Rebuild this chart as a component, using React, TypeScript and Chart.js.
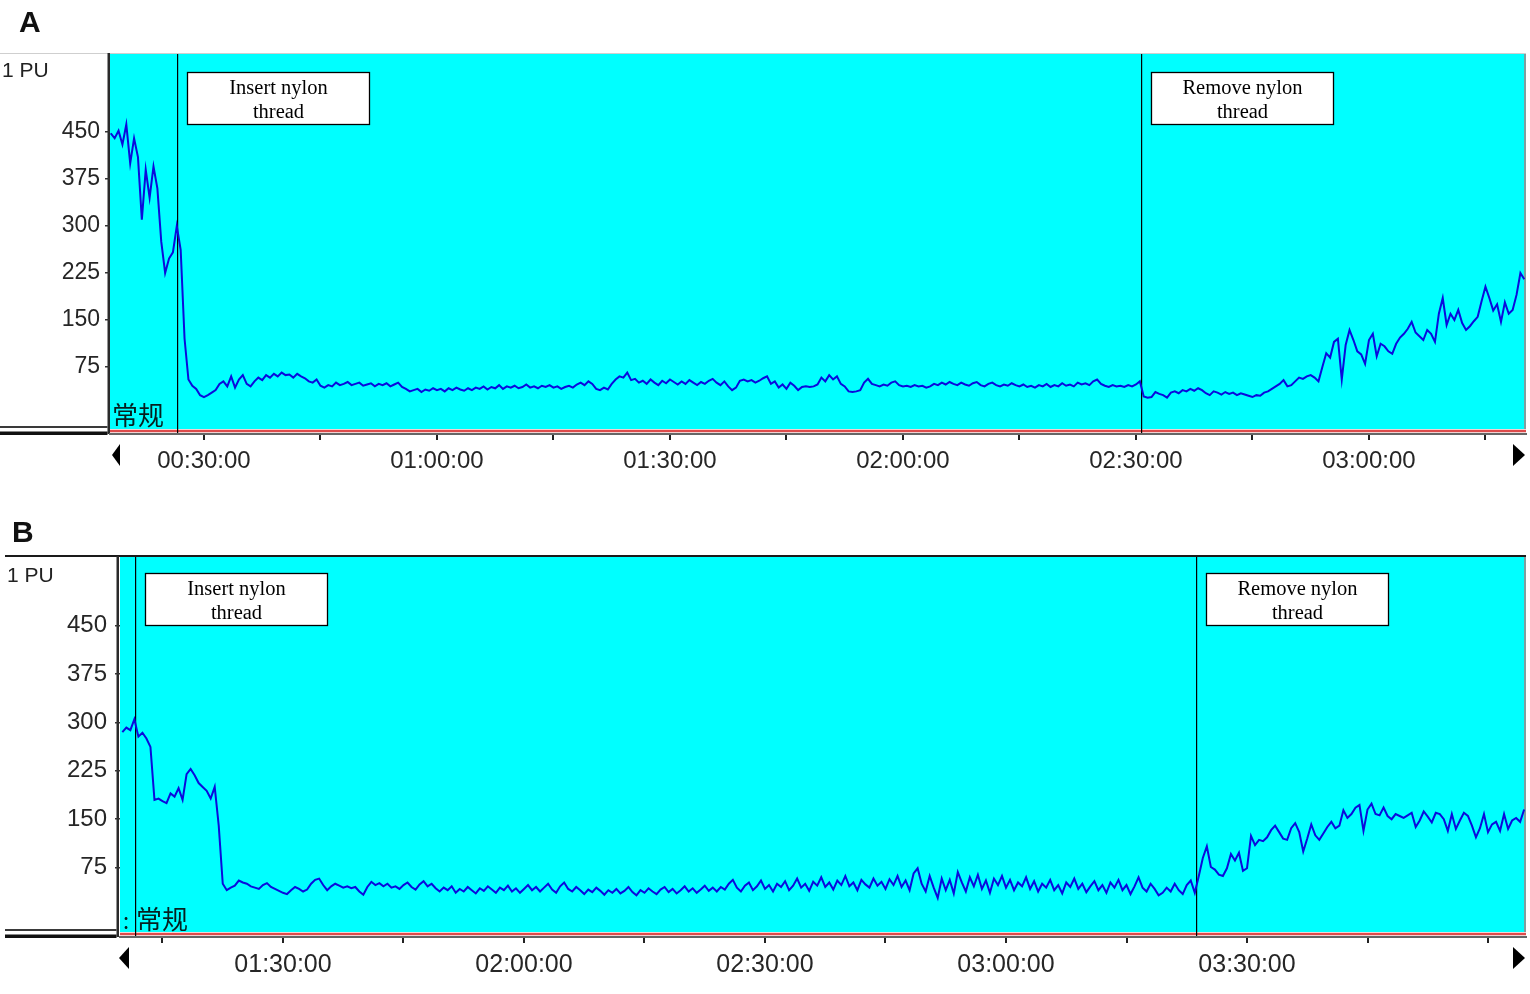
import React, { useEffect, useRef } from 'react';
import { Chart, registerables } from 'chart.js';
Chart.register(...registerables);

// ---------- Panel A data ----------
const startA = 18.0; // minutes
const stepA = 0.5;
const valuesA = [
  448, 440, 452, 430, 462, 400, 440, 410, 310, 390,
  345, 395, 360, 275, 225, 248, 258, 300, 262, 120,
  55, 45, 40, 30, 27, 30, 34, 38, 48, 52,
  44, 60, 42, 55, 62, 48, 44, 52, 58, 54,
  62, 58, 64, 60, 66, 62, 63, 58, 64, 60,
  57, 52, 50, 55, 45, 42, 46, 44, 50, 46,
  48, 51, 46, 48, 50, 45, 47, 49, 44, 48,
  46, 49, 44, 47, 50, 43, 40, 36, 38, 40,
  35, 39, 37, 41, 38, 40, 36, 41, 38, 42,
  39, 37, 41, 38, 42, 40, 44, 39, 43, 41,
  46, 40, 44, 42, 45, 41, 43, 47, 42, 44,
  41, 45, 43, 46, 42, 44, 40, 43, 45, 42,
  47, 50, 46, 52, 48, 40, 38, 42, 39, 48,
  55, 60, 58, 66, 54, 56, 50, 53, 48, 55,
  50, 46, 53, 49, 55, 51, 47, 52, 48, 54,
  50, 46, 51, 48, 53, 56, 50, 46, 52, 44,
  38, 42, 53, 55, 52, 54, 50, 53, 57, 60,
  48, 52, 42, 47, 40, 50, 45, 38, 43, 44,
  43, 44, 47, 58, 52, 62, 55, 60, 48, 44,
  36, 35, 36, 38, 50, 56, 48, 46, 44, 47,
  45, 50, 52, 46, 44, 45, 43, 46, 44, 45,
  42, 44, 48, 46, 50, 47, 51, 48, 46, 50,
  47, 45, 49, 51, 46, 44, 48, 50, 46, 44,
  47, 45, 49, 46, 44, 47, 43, 45, 42, 46,
  44, 48, 43, 46, 44, 49, 45, 47, 44, 50,
  47, 49, 46, 52, 55, 48, 45, 43, 46, 44,
  45, 43, 46, 44, 47, 52, 28, 26, 27, 35,
  32, 30, 26, 34, 36, 33, 38, 36, 40, 37,
  41, 38, 33, 30, 36, 34, 31, 35, 32, 34,
  30, 33, 31, 29, 27, 30, 29, 34, 36, 40,
  44, 48, 54, 44, 46, 52, 58, 56, 60, 62,
  58, 52, 75, 97, 90, 115, 120, 55, 110, 134,
  118, 100, 95, 80, 118, 128, 92, 112, 108, 100,
  96, 112, 122, 128, 136, 147, 130, 124, 118, 134,
  128, 115, 160, 185, 142, 160, 150, 166, 145, 134,
  140, 148, 155, 180, 203, 185, 165, 175, 147, 178,
  160, 166, 190, 225, 215,
];
const xTicksA = [30, 45, 60, 75, 90, 105, 120, 135, 150, 165, 180, 195];
const xLabelTimesA = [30, 60, 90, 120, 150, 180];
const xLabelsA = ['00:30:00', '01:00:00', '01:30:00', '02:00:00', '02:30:00', '03:00:00'];
const eventTimesA = [26.55, 150.65];

// ---------- Panel B data ----------
const startB = 70.0;
const stepB = 0.5;
const valuesB = [
  285, 292, 288, 305, 278, 284, 275, 262, 180, 182,
  178, 175, 190, 185, 198, 180, 220, 228, 218, 206,
  200, 194, 182, 200, 140, 50, 40, 44, 47, 55,
  52, 50, 46, 44, 42, 48, 51, 45, 42, 39,
  36, 34, 40, 45, 42, 38, 41, 50, 56, 58,
  48, 40, 46, 50, 47, 44, 46, 43, 45, 38,
  33, 45, 53, 48, 51, 46, 50, 44, 46, 42,
  48, 52, 45, 41, 49, 54, 46, 50, 43, 38,
  44, 40, 46, 36, 42, 38, 45, 40, 35, 43,
  39, 46, 41, 36, 44, 40, 47, 38, 43, 36,
  42, 48, 40, 45, 38, 44, 50, 41, 36, 46,
  52, 42, 38, 45, 40, 34, 41, 37, 44, 39,
  33, 40, 36, 42, 35, 39, 45, 37, 32, 40,
  36, 43, 38, 34, 41, 45, 37, 42, 35, 40,
  46, 38, 43, 36, 41, 47, 39, 44, 38, 45,
  41, 50, 56, 44, 38, 47, 52, 40, 46, 55,
  42, 48, 38, 50, 45, 54, 40, 47, 58, 44,
  50, 39, 53, 47, 60, 45, 52, 41, 55, 48,
  62, 46, 52, 40, 56, 49, 44, 58, 47, 53,
  42, 57, 48, 62, 45, 55, 40, 66, 74, 50,
  38, 62, 44, 28, 58, 40, 56, 35, 68, 52,
  38, 60, 46, 64, 42, 55, 36, 58, 48, 62,
  44, 56, 40, 52, 46, 60, 42, 54, 38, 50,
  44, 56, 40, 48, 35, 52, 45, 58, 42, 50,
  37, 46, 54, 40, 48, 36, 52, 44, 56, 40,
  48, 34, 46, 60, 44, 38, 50, 42, 32, 36,
  44, 38, 50, 40, 34, 48, 55, 36, 62, 90,
  108, 76, 72, 64, 62, 74, 96, 86, 98, 70,
  74, 124, 110, 118, 116, 122, 133, 140, 130, 120,
  118, 136, 144, 130, 100, 120, 142, 125, 118, 128,
  138, 146, 136, 140, 164, 152, 158, 168, 172, 132,
  165, 174, 158, 156, 168, 155, 150, 158, 155, 152,
  156, 160, 138, 148, 162, 154, 145, 160, 158, 150,
  132, 158, 135, 148, 160, 155, 140, 122, 136, 158,
  130, 142, 146, 132, 158, 135, 148, 152, 146, 165,
];
const xTicksB = [75, 90, 105, 120, 135, 150, 165, 180, 195, 210, 225, 240];
const xLabelTimesB = [90, 120, 150, 180, 210];
const xLabelsB = ['01:30:00', '02:00:00', '02:30:00', '03:00:00', '03:30:00'];
const eventTimesB = [71.55, 203.65];

// shared
const yTickValues = [75, 150, 225, 300, 375, 450];
const eventTexts = [['Insert nylon', 'thread'], ['Remove nylon', 'thread']];

const SANS = "'Liberation Sans', Arial, sans-serif";
const SERIF = "'Liberation Serif', 'Times New Roman', serif";
const CJK = "'Noto Sans CJK SC', sans-serif";

type PanelCfg = {
  key: string;
  letter: string;
  canvasTop: number;
  height: number;
  plotTop: number;
  plotBottom: number;
  plotLeft: number;
  plotRight: number;
  xMin: number;
  xMax: number;
  yMin: number;
  yMax: number;
  start: number;
  step: number;
  values: number[];
  xTicks: number[];
  labelTimes: number[];
  labels: string[];
  events: number[];
  topLineColor: string;
  topLineStart: number;
  boxLineX: number;
  boxLeft: number;
  yFont: number;
  xFont: number;
  yPad: number;
  xPad: number;
  letterX: number;
  letterY: number;
  puY: number;
  puX: number;
  boxTopOff: number;
  prefixColon: boolean;
  leftTri: number[];
  rightTri: number[];
  triY: number;
};

const panels: PanelCfg[] = [
  {
    key: 'A', letter: 'A', canvasTop: 0, height: 497,
    plotTop: 54, plotBottom: 434, plotLeft: 110, plotRight: 1526,
    xMin: 17.9, xMax: 200.22, yMin: -32, yMax: 574.5,
    start: startA, step: stepA, values: valuesA,
    xTicks: xTicksA, labelTimes: xLabelTimesA, labels: xLabelsA, events: eventTimesA,
    topLineColor: '#cfcfcf', topLineStart: 0, boxLineX: 107.5, boxLeft: 0,
    yFont: 23, xFont: 24, yPad: 5, xPad: 7, letterX: 19, letterY: 32, puX: 2, puY: 77, boxTopOff: 18,
    prefixColon: false, leftTri: [112, 120], rightTri: [1513, 1525], triY: 455,
  },
  {
    key: 'B', letter: 'B', canvasTop: 500, height: 494,
    plotTop: 57, plotBottom: 437, plotLeft: 120, plotRight: 1526,
    xMin: 69.71, xMax: 244.73, yMin: -32.5, yMax: 556.3,
    start: startB, step: stepB, values: valuesB,
    xTicks: xTicksB, labelTimes: xLabelTimesB, labels: xLabelsB, events: eventTimesB,
    topLineColor: '#1a1a1a', topLineStart: 5, boxLineX: 116.5, boxLeft: 5,
    yFont: 24, xFont: 25, yPad: 8, xPad: 7, letterX: 12, letterY: 42, puX: 7, puY: 82, boxTopOff: 16,
    prefixColon: true, leftTri: [119, 129], rightTri: [1513, 1525], triY: 458,
  },
];

function makeDecor(p: PanelCfg) {
  return {
    id: 'decor' + p.key,
    beforeDraw(chart: any) {
      const { ctx, chartArea: ca } = chart;
      ctx.save();
      const w = ca.right - ca.left;
      // plot background
      ctx.fillStyle = '#00ffff';
      ctx.fillRect(ca.left, ca.top, w, ca.bottom - 5 - ca.top);
      ctx.fillStyle = '#f3d2d2';
      ctx.fillRect(ca.left, ca.bottom - 5, w, 4);
      ctx.fillStyle = '#dd4b4b';
      ctx.fillRect(ca.left, ca.bottom - 4, w, 2);
      // top line
      ctx.fillStyle = p.topLineColor;
      if (p.key === 'A') ctx.fillRect(p.topLineStart, ca.top - 1, ca.right - p.topLineStart, 1);
      else ctx.fillRect(p.topLineStart, ca.top - 2, ca.right - p.topLineStart, 2);
      // right border
      ctx.fillStyle = '#7f9f9f';
      ctx.fillRect(ca.right - 2, ca.top, 2, ca.bottom - 5 - ca.top);
      // left box
      ctx.fillStyle = '#2a2a2a';
      ctx.fillRect(p.boxLineX, ca.top - 1, 2.5, ca.bottom - ca.top + 1);
      ctx.fillStyle = '#3a3a3a';
      ctx.fillRect(p.boxLeft, ca.bottom - 8, p.boxLineX - p.boxLeft, 2);
      ctx.fillStyle = '#111';
      ctx.fillRect(p.boxLeft, ca.bottom - 2.5, p.boxLineX - p.boxLeft, 3.5);
      ctx.restore();
    },
    beforeDatasetsDraw(chart: any) {
      const { ctx, chartArea: ca, scales } = chart;
      ctx.save();
      ctx.fillStyle = '#000';
      p.events.forEach((t) => {
        const px = Math.round(scales.x.getPixelForValue(t));
        ctx.fillRect(px, ca.top, 1.2, ca.bottom - ca.top - 1);
      });
      ctx.restore();
    },
    afterDraw(chart: any) {
      const { ctx, chartArea: ca, scales } = chart;
      ctx.save();
      // annotation boxes
      p.events.forEach((t, k) => {
        const px = Math.round(scales.x.getPixelForValue(t));
        const bx = px + 10.5;
        const by = ca.top + p.boxTopOff + 0.5;
        ctx.fillStyle = '#ffffff';
        ctx.fillRect(bx, by, 182, 52);
        ctx.strokeStyle = '#000';
        ctx.lineWidth = 1.3;
        ctx.strokeRect(bx, by, 182, 52);
        ctx.fillStyle = '#000';
        ctx.font = `20.5px ${SERIF}`;
        ctx.textAlign = 'center';
        ctx.textBaseline = 'alphabetic';
        ctx.fillText(eventTexts[k][0], bx + 91, by + 21.5);
        ctx.fillText(eventTexts[k][1], bx + 91, by + 45.5);
      });
      // 常规
      ctx.fillStyle = '#062020';
      ctx.textAlign = 'left';
      ctx.textBaseline = 'alphabetic';
      if (p.prefixColon) {
        ctx.font = `22px ${CJK}`;
        ctx.fillText(':', ca.left + 3, ca.bottom - 8);
        ctx.font = `26px ${CJK}`;
        ctx.fillText('常规', ca.left + 16, ca.bottom - 8);
      } else {
        ctx.font = `26px ${CJK}`;
        ctx.fillText('常规', ca.left + 2, ca.bottom - 9);
      }
      // 1 PU
      ctx.fillStyle = '#222';
      ctx.font = `21px ${SANS}`;
      ctx.fillText('1 PU', p.puX, p.puY);
      // panel letter
      ctx.fillStyle = '#111';
      ctx.font = `bold 30px ${SANS}`;
      ctx.fillText(p.letter, p.letterX, p.letterY);
      // scroll triangles
      ctx.fillStyle = '#000';
      const [l0, l1] = p.leftTri;
      ctx.beginPath();
      ctx.moveTo(l0, p.triY);
      ctx.lineTo(l1, p.triY - 11);
      ctx.lineTo(l1, p.triY + 11);
      ctx.closePath();
      ctx.fill();
      const [r0, r1] = p.rightTri;
      ctx.beginPath();
      ctx.moveTo(r1, p.triY);
      ctx.lineTo(r0, p.triY - 11);
      ctx.lineTo(r0, p.triY + 11);
      ctx.closePath();
      ctx.fill();
      ctx.restore();
    },
  };
}

function Panel({ p }: { p: PanelCfg }) {
  const ref = useRef<HTMLCanvasElement | null>(null);
  useEffect(() => {
    if (!ref.current) return;
    const pts = p.values.map((v, i) => ({ x: p.start + i * p.step, y: v }));
    const chart = new Chart(ref.current, {
      type: 'line',
      data: {
        datasets: [
          {
            data: pts,
            borderColor: '#0b0bdc',
            borderWidth: 2,
            pointRadius: 0,
            tension: 0,
            fill: false,
          },
        ],
      },
      options: {
        animation: false,
        responsive: false,
        maintainAspectRatio: false,
        events: [],
        layout: { padding: { left: 0, top: p.plotTop, right: 1530 - p.plotRight, bottom: 0 } },
        plugins: { legend: { display: false }, tooltip: { enabled: false } },
        scales: {
          x: {
            type: 'linear',
            min: p.xMin,
            max: p.xMax,
            afterFit: (s: any) => { s.height = p.height - p.plotBottom; },
            afterBuildTicks: (s: any) => { s.ticks = p.xTicks.map((v) => ({ value: v })); },
            ticks: {
              autoSkip: false,
              maxRotation: 0,
              padding: p.xPad,
              color: '#262626',
              font: { family: SANS, size: p.xFont },
              callback: (v: any) => {
                const idx = p.labelTimes.indexOf(Number(v));
                return idx >= 0 ? p.labels[idx] : '';
              },
            },
            grid: { drawOnChartArea: false, tickLength: 6, color: '#222', lineWidth: 2 },
            border: { display: true, color: '#666', width: 2 },
          },
          y: {
            type: 'linear',
            min: p.yMin,
            max: p.yMax,
            afterFit: (s: any) => { s.width = p.plotLeft; },
            afterBuildTicks: (s: any) => { s.ticks = yTickValues.map((v) => ({ value: v })); },
            ticks: {
              autoSkip: false,
              padding: p.yPad,
              color: '#262626',
              font: { family: SANS, size: p.yFont },
              callback: (v: any) => String(v),
            },
            grid: { drawOnChartArea: false, tickLength: 5, color: '#333', lineWidth: 1.5 },
            border: { display: false },
          },
        },
      },
      plugins: [makeDecor(p)],
    } as any);
    return () => chart.destroy();
  }, [p]);
  return (
    <canvas
      ref={ref}
      width={1530}
      height={p.height}
      style={{ position: 'absolute', left: 0, top: p.canvasTop, width: 1530, height: p.height, display: 'block' }}
    />
  );
}

export default function App() {
  return (
    <div style={{ position: 'absolute', left: 0, top: 0, width: 1530, height: 994, background: '#fff' }}>
      {panels.map((p) => (
        <Panel key={p.key} p={p} />
      ))}
    </div>
  );
}
